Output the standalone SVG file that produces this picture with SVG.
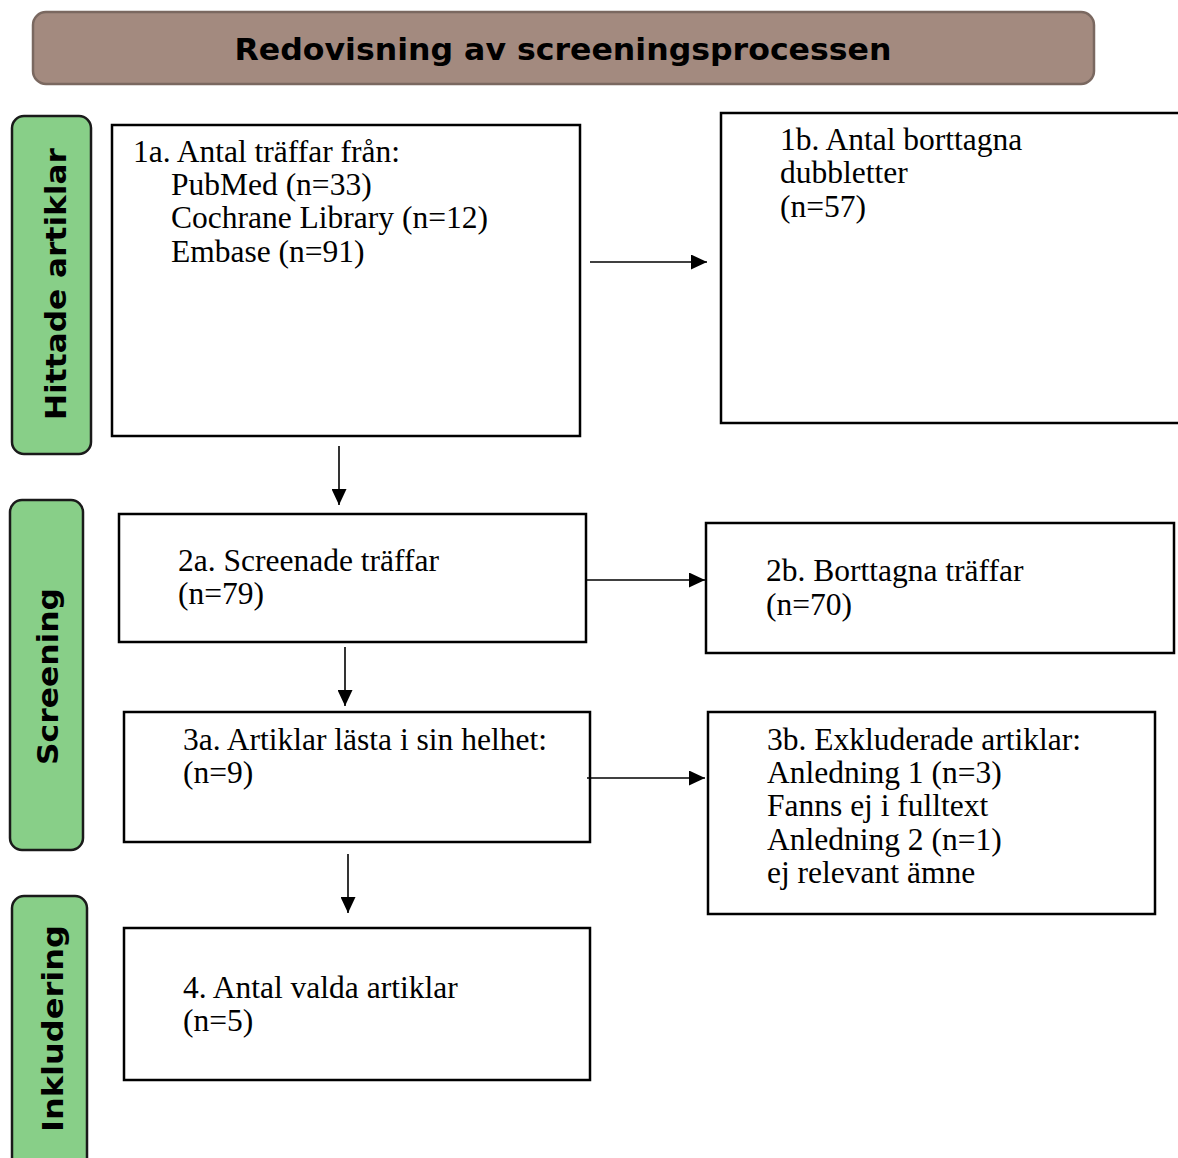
<svg xmlns="http://www.w3.org/2000/svg" width="1178" height="1158" viewBox="0 0 1178 1158">
<defs>
<marker id="ah" markerWidth="16" markerHeight="15" refX="16" refY="7.5" orient="auto" markerUnits="userSpaceOnUse">
<path d="M0,0 L16,7.5 L0,15 Z" fill="#000"/>
</marker>
<style>
.box{fill:#fff;stroke:#000;stroke-width:2.5}
.side{fill:#88cf88;stroke:#1a1a1a;stroke-width:2.5}
.side-t{font-family:"DejaVu Sans",Verdana,sans-serif;font-weight:bold;font-size:28px;fill:#000}
.t{font-family:"Liberation Serif","Times New Roman",serif;font-size:31.5px;fill:#000}
.conn{stroke:#000;stroke-width:1.6;fill:none}
</style>
</defs>
<rect width="1178" height="1158" fill="#fff"/>
<g id="title">
<rect x="33" y="12" width="1061" height="72" rx="13" fill="#a38a7f" stroke="#7a6860" stroke-width="2.5"/>
<text x="563" y="60" text-anchor="middle" font-family="DejaVu Sans, Verdana, sans-serif" font-weight="bold" font-size="31" textLength="657" lengthAdjust="spacingAndGlyphs">Redovisning av screeningsprocessen</text>
</g>
<g id="lane-hittade">
<rect class="side" x="12" y="116" width="79" height="338" rx="12"/>
<text class="side-t" transform="translate(66,420) rotate(-90)" textLength="272" lengthAdjust="spacingAndGlyphs">Hittade artiklar</text>
</g>
<g id="lane-screening">
<rect class="side" x="10" y="500" width="73" height="350" rx="12"/>
<text class="side-t" transform="translate(58,765) rotate(-90)" font-size="30" textLength="177" lengthAdjust="spacingAndGlyphs">Screening</text>
</g>
<g id="lane-inkludering">
<rect class="side" x="12" y="896" width="75" height="275" rx="12"/>
<text class="side-t" transform="translate(63,1132) rotate(-90)" textLength="207" lengthAdjust="spacingAndGlyphs">Inkludering</text>
</g>
<g id="n1a">
<rect class="box" x="112" y="125" width="468" height="311"/>
<text class="t" x="133" y="162">1a. Antal träffar från:</text>
<text class="t" x="171" y="195">PubMed (n=33)</text>
<text class="t" x="171" y="228">Cochrane Library (n=12)</text>
<text class="t" x="171" y="262">Embase (n=91)</text>
</g>
<g id="n1b">
<rect class="box" x="721" y="113" width="470" height="310"/>
<text class="t" x="780" y="150">1b. Antal borttagna</text>
<text class="t" x="780" y="183">dubbletter</text>
<text class="t" x="780" y="217">(n=57)</text>
</g>
<g id="n2a">
<rect class="box" x="119" y="514" width="467" height="128"/>
<text class="t" x="178" y="571">2a. Screenade träffar</text>
<text class="t" x="178" y="604">(n=79)</text>
</g>
<g id="n2b">
<rect class="box" x="706" y="523" width="468" height="130"/>
<text class="t" x="766" y="581">2b. Borttagna träffar</text>
<text class="t" x="766" y="615">(n=70)</text>
</g>
<g id="n3a">
<rect class="box" x="124" y="712" width="466" height="130"/>
<text class="t" x="183" y="750">3a. Artiklar lästa i sin helhet:</text>
<text class="t" x="183" y="783">(n=9)</text>
</g>
<g id="n3b">
<rect class="box" x="708" y="712" width="447" height="202"/>
<text class="t" x="767" y="750">3b. Exkluderade artiklar:</text>
<text class="t" x="767" y="783">Anledning 1 (n=3)</text>
<text class="t" x="767" y="816">Fanns ej i fulltext</text>
<text class="t" x="767" y="850">Anledning 2 (n=1)</text>
<text class="t" x="767" y="883">ej relevant ämne</text>
</g>
<g id="n4">
<rect class="box" x="124" y="928" width="466" height="152"/>
<text class="t" x="183" y="998">4. Antal valda artiklar</text>
<text class="t" x="183" y="1031">(n=5)</text>
</g>
<g id="connectors">
<line class="conn" x1="590" y1="262" x2="707" y2="262" marker-end="url(#ah)"/>
<line class="conn" x1="339" y1="446" x2="339" y2="505" marker-end="url(#ah)"/>
<line class="conn" x1="587" y1="580" x2="705" y2="580" marker-end="url(#ah)"/>
<line class="conn" x1="345" y1="647" x2="345" y2="706" marker-end="url(#ah)"/>
<line class="conn" x1="587" y1="778" x2="705" y2="778" marker-end="url(#ah)"/>
<line class="conn" x1="348" y1="854" x2="348" y2="913" marker-end="url(#ah)"/>
</g>
</svg>
